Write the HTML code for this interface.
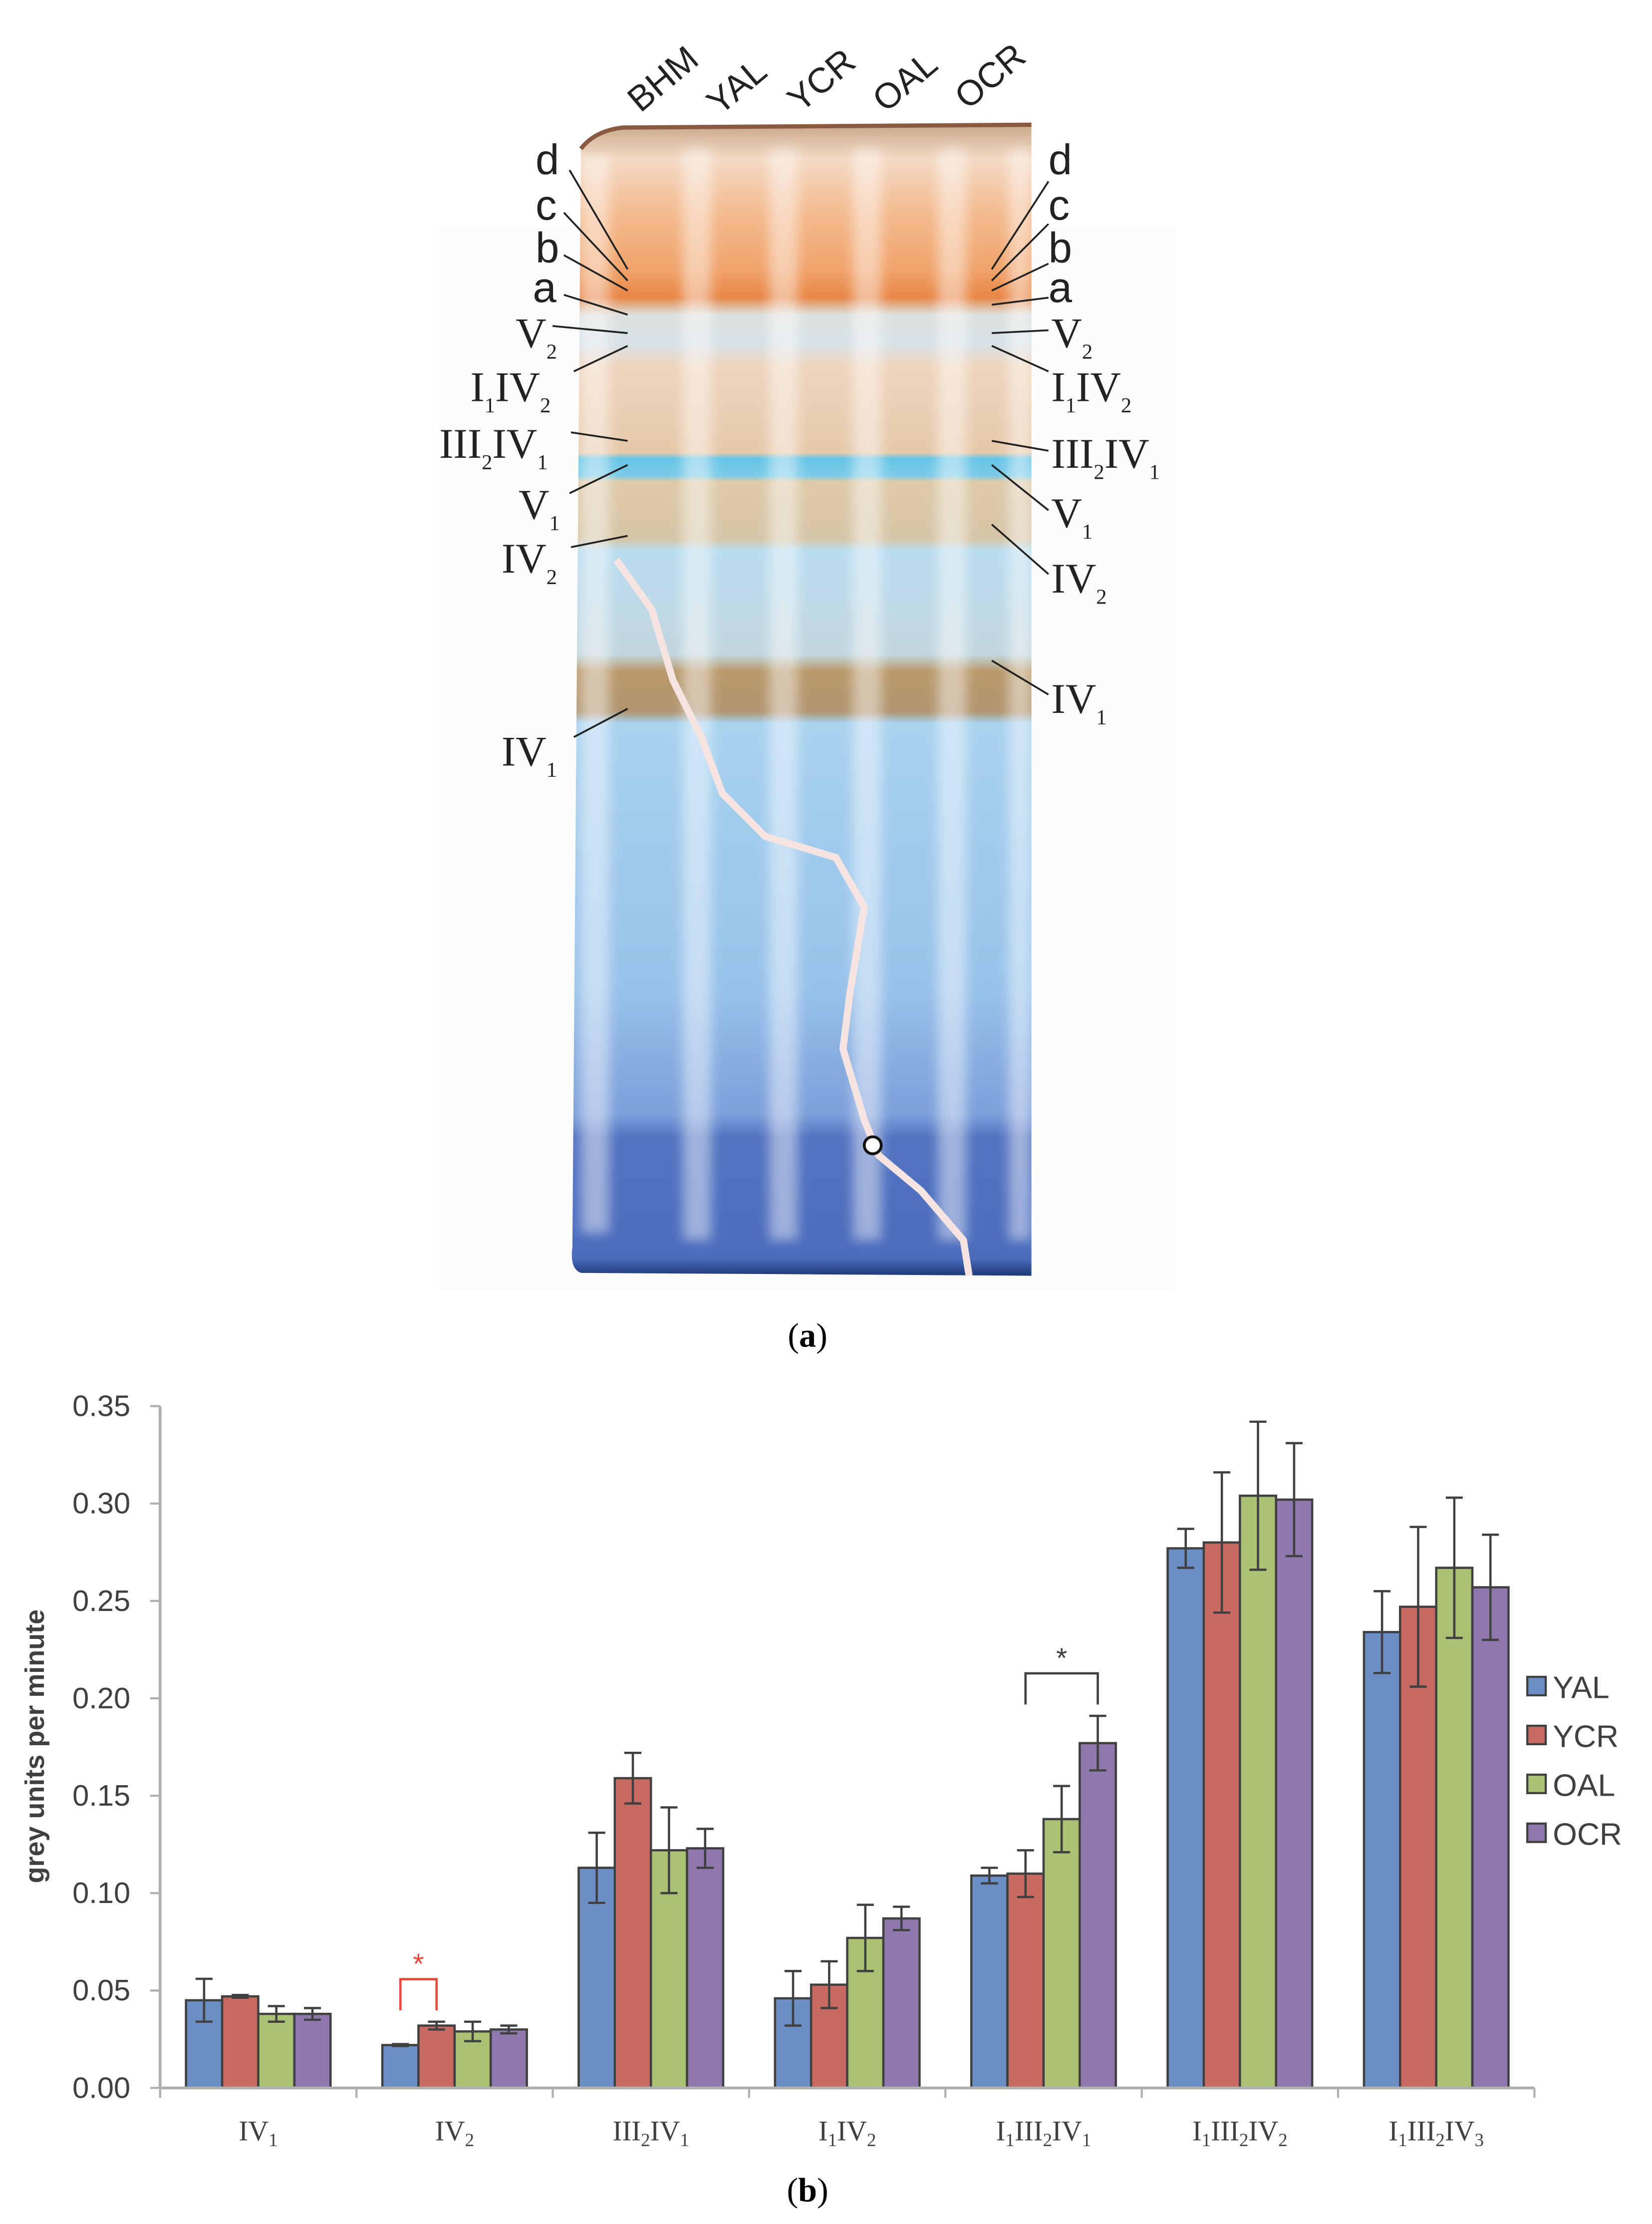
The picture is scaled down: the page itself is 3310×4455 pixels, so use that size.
<!DOCTYPE html>
<html><head><meta charset="utf-8"><style>
html,body{margin:0;padding:0;background:#fff;}
svg{display:block;}
.serif{font-family:"Liberation Serif",serif;}
.sans{font-family:"Liberation Sans",sans-serif;}
</style></head><body>
<svg id="fig" width="3310" height="4455" viewBox="0 0 1166 1569" preserveAspectRatio="none" xmlns="http://www.w3.org/2000/svg">
<defs>
<linearGradient id="gelg" x1="0" y1="88" x2="0" y2="900" gradientUnits="userSpaceOnUse">
<stop offset="0" stop-color="#c9a98a"/>
<stop offset="0.03" stop-color="#f3d9c3"/>
<stop offset="0.08" stop-color="#f3b98c"/>
<stop offset="0.125" stop-color="#f0a46c"/>
<stop offset="0.15" stop-color="#e88646"/>
<stop offset="0.165" stop-color="#dde0dc"/>
<stop offset="0.19" stop-color="#d6e2e8"/>
<stop offset="0.21" stop-color="#eed4bc"/>
<stop offset="0.285" stop-color="#e6c9aa"/>
<stop offset="0.29" stop-color="#65c4e6"/>
<stop offset="0.305" stop-color="#7ccbe8"/>
<stop offset="0.31" stop-color="#ddcaa8"/>
<stop offset="0.36" stop-color="#d6c5a6"/>
<stop offset="0.37" stop-color="#b8dcef"/>
<stop offset="0.46" stop-color="#c2d6de"/>
<stop offset="0.475" stop-color="#b8996a"/>
<stop offset="0.51" stop-color="#b09570"/>
<stop offset="0.52" stop-color="#a8d2ee"/>
<stop offset="0.75" stop-color="#98c2ea"/>
<stop offset="0.86" stop-color="#7b9fda"/>
<stop offset="0.88" stop-color="#5274c0"/>
<stop offset="0.985" stop-color="#4b6cbc"/>
<stop offset="1" stop-color="#1d3a78"/>
</linearGradient>
<filter id="soft" x="-50%" y="-5%" width="200%" height="110%"><feGaussianBlur stdDeviation="4"/></filter>
</defs>

<g id="panel-a">
<rect x="310" y="160" width="520" height="750" fill="#fcfcfc"/>
<path d="M410,105 Q420,92 440,90 L728,88 L728,900 L410,898 Q402,895 404,880 Z" fill="url(#gelg)"/>
<path d="M410,105 Q420,92 440,90 L728,88" fill="none" stroke="#8a5a40" stroke-width="3"/>
<g fill="#ffffff" opacity="0.45" filter="url(#soft)">
<rect x="410" y="110" width="20" height="760"/>
<rect x="482" y="105" width="20" height="770"/>
<rect x="543" y="105" width="20" height="770"/>
<rect x="602" y="105" width="20" height="770"/>
<rect x="662" y="105" width="20" height="770"/>
<rect x="712" y="105" width="16" height="770"/>
</g>
<path d="M435,395 L460,430 L475,480 L495,520 L510,560 L540,590 L590,605 L610,640 L600,700 L595,740 L610,790 L620,815 L650,840 L680,875 L684,900" fill="none" stroke="#f6e4e2" stroke-width="5"/>
<circle cx="616" cy="808" r="6" fill="#fff" stroke="#111" stroke-width="2"/>

<g class="sans" font-size="25" fill="#222">
<text transform="translate(452,80) rotate(-40)">BHM</text>
<text transform="translate(508,82) rotate(-40)">YAL</text>
<text transform="translate(565,80) rotate(-40)">YCR</text>
<text transform="translate(625,80) rotate(-40)">OAL</text>
<text transform="translate(683,78) rotate(-40)">OCR</text>
</g>

<g fill="#222" font-size="30">
<text class="sans" x="378" y="123">d</text>
<text class="sans" x="378" y="155">c</text>
<text class="sans" x="378" y="185">b</text>
<text class="sans" x="376" y="213">a</text>
<text class="serif" x="364" y="245">V<tspan font-size="15" dy="8">2</tspan></text>
<text class="serif" x="332" y="283">I<tspan font-size="15" dy="8">1</tspan><tspan dy="-8">IV</tspan><tspan font-size="15" dy="8">2</tspan></text>
<text class="serif" x="310" y="323">III<tspan font-size="15" dy="8">2</tspan><tspan dy="-8">IV</tspan><tspan font-size="15" dy="8">1</tspan></text>
<text class="serif" x="366" y="366">V<tspan font-size="15" dy="8">1</tspan></text>
<text class="serif" x="354" y="404">IV<tspan font-size="15" dy="8">2</tspan></text>
<text class="serif" x="354" y="540">IV<tspan font-size="15" dy="8">1</tspan></text>
</g>
<g stroke="#222" stroke-width="1.3">
<line x1="402" y1="120" x2="443" y2="190"/>
<line x1="398" y1="150" x2="443" y2="198"/>
<line x1="398" y1="180" x2="443" y2="205"/>
<line x1="398" y1="208" x2="443" y2="222"/>
<line x1="390" y1="230" x2="443" y2="235"/>
<line x1="405" y1="262" x2="443" y2="244"/>
<line x1="403" y1="305" x2="443" y2="311"/>
<line x1="402" y1="348" x2="443" y2="328"/>
<line x1="403" y1="386" x2="443" y2="378"/>
<line x1="405" y1="520" x2="443" y2="500"/>
</g>
<g fill="#222" font-size="30">
<text class="sans" x="740" y="123">d</text>
<text class="sans" x="740" y="155">c</text>
<text class="sans" x="740" y="185">b</text>
<text class="sans" x="740" y="213">a</text>
<text class="serif" x="742" y="245">V<tspan font-size="15" dy="8">2</tspan></text>
<text class="serif" x="742" y="283">I<tspan font-size="15" dy="8">1</tspan><tspan dy="-8">IV</tspan><tspan font-size="15" dy="8">2</tspan></text>
<text class="serif" x="742" y="330">III<tspan font-size="15" dy="8">2</tspan><tspan dy="-8">IV</tspan><tspan font-size="15" dy="8">1</tspan></text>
<text class="serif" x="742" y="372">V<tspan font-size="15" dy="8">1</tspan></text>
<text class="serif" x="742" y="418">IV<tspan font-size="15" dy="8">2</tspan></text>
<text class="serif" x="742" y="503">IV<tspan font-size="15" dy="8">1</tspan></text>
</g>
<g stroke="#222" stroke-width="1.3">
<line x1="740" y1="128" x2="700" y2="190"/>
<line x1="740" y1="158" x2="700" y2="198"/>
<line x1="740" y1="186" x2="700" y2="205"/>
<line x1="740" y1="210" x2="700" y2="215"/>
<line x1="740" y1="233" x2="700" y2="235"/>
<line x1="740" y1="262" x2="700" y2="244"/>
<line x1="740" y1="318" x2="700" y2="311"/>
<line x1="740" y1="360" x2="700" y2="328"/>
<line x1="740" y1="405" x2="700" y2="370"/>
<line x1="740" y1="490" x2="700" y2="466"/>
</g>
<text class="serif" x="570" y="950" font-size="24" text-anchor="middle" fill="#000">(<tspan font-weight="bold">a</tspan>)</text>
</g>

<g id="chart"></g>
<text class="serif" x="570" y="1553" font-size="24" text-anchor="middle" fill="#000">(<tspan font-weight="bold">b</tspan>)</text>
</svg>
<script>
const categories = [["IV","1"],["IV","2"],["III","2","IV","1"],["I","1","IV","2"],["I","1","III","2","IV","1"],["I","1","III","2","IV","2"],["I","1","III","2","IV","3"]];
const seriesNames = ["YAL","YCR","OAL","OCR"];
const yalValues = [0.045,0.022,0.113,0.046,0.109,0.277,0.234];
const ycrValues = [0.047,0.032,0.159,0.053,0.110,0.280,0.247];
const oalValues = [0.038,0.029,0.122,0.077,0.138,0.304,0.267];
const ocrValues = [0.038,0.030,0.123,0.087,0.177,0.302,0.257];
const yalErr = [0.011,0.0005,0.018,0.014,0.004,0.010,0.021];
const ycrErr = [0.0007,0.002,0.013,0.012,0.012,0.036,0.041];
const oalErr = [0.004,0.005,0.022,0.017,0.017,0.038,0.036];
const ocrErr = [0.003,0.002,0.010,0.006,0.014,0.029,0.027];
const yTicks = [0,0.05,0.10,0.15,0.20,0.25,0.30,0.35];
const yTickLabels = ["0.00","0.05","0.10","0.15","0.20","0.25","0.30","0.35"];
const significance = [{cat:1,from:0,to:1,color:"#e8463a"},{cat:4,from:1,to:3,color:"#404040"}];

const NS="http://www.w3.org/2000/svg";
const chart=document.getElementById('chart');
const X0=113,X1=1083,Y0=1473,YT=992,YMAX=0.35;
const colors=["#6b8fc5","#c96a62","#aac273","#8e78ae"];
const values=[yalValues,ycrValues,oalValues,ocrValues];
const errs=[yalErr,ycrErr,oalErr,ocrErr];
const groupW=(X1-X0)/categories.length;
const barW=25.5;
function yScale(v){return Y0-(v/YMAX)*(Y0-YT);}
function barX(c,s){return X0+groupW*(c+0.5)-2*barW+s*barW;}
function mk(tag,attrs,parent){const e=document.createElementNS(NS,tag);for(const k in attrs)e.setAttribute(k,attrs[k]);(parent||chart).appendChild(e);return e;}

let ax=mk('line',{x1:X0,y1:YT,x2:X0,y2:Y0,stroke:'#b0b0b0','stroke-width':2});


yTicks.forEach((t,i)=>{
  const y=yScale(t);
  const tk=mk('line',{x1:X0-7,y1:y,x2:X0,y2:y,stroke:'#b0b0b0','stroke-width':1.5});
  
  
  const lb=mk('text',{x:X0-21,y:y+7,'font-size':21,'text-anchor':'end',fill:'#404040','font-family':'Liberation Sans, sans-serif'});
  lb.textContent=yTickLabels[i];
  
  
});
const yt=mk('text',{transform:'translate(31,1232) rotate(-90)','font-size':19,'font-weight':'bold','text-anchor':'middle',fill:'#404040','font-family':'Liberation Sans, sans-serif'});
yt.textContent='grey units per minute';



categories.forEach((cat,c)=>{
  values.forEach((vals,s)=>{
    const x=barX(c,s),y=yScale(vals[c]);
    const r=mk('rect',{x:x,y:y,width:barW,height:Y0-y,fill:colors[s],stroke:'#404040','stroke-width':1.6});
    
    
    const cx=x+barW/2,e=errs[s][c];
    const g=mk('path',{d:`M${cx},${yScale(vals[c]+e)}V${yScale(vals[c]-e)}M${cx-6},${yScale(vals[c]+e)}H${cx+6}M${cx-6},${yScale(vals[c]-e)}H${cx+6}`,stroke:'#404040','stroke-width':1.6,fill:'none'});
    
    
  });
});
const xa=mk('line',{x1:X0,y1:Y0,x2:X1,y2:Y0,stroke:'#b0b0b0','stroke-width':2});


for(let i=0;i<=categories.length;i++){
  const x=X0+groupW*i;
  const tk=mk('line',{x1:x,y1:Y0,x2:x,y2:Y0+7,stroke:'#b0b0b0','stroke-width':1.5});
  
  
}
categories.forEach((cat,c)=>{
  const t=mk('text',{x:X0+groupW*(c+0.5),y:1510,'font-size':20,'text-anchor':'middle',fill:'#404040','font-family':'Liberation Serif, serif'});
  
  
  cat.forEach((part,k)=>{
    const sp=document.createElementNS(NS,'tspan');
    if(k%2===1){sp.setAttribute('font-size','13');sp.setAttribute('dy','4');}
    else if(k>0){sp.setAttribute('dy','-4');}
    sp.textContent=part;t.appendChild(sp);
  });
});
significance.forEach(sg=>{
  const xa1=barX(sg.cat,sg.from)+barW/2,xb=barX(sg.cat,sg.to)+barW/2;
  const top=Math.max(values[sg.from][sg.cat]+errs[sg.from][sg.cat],values[sg.to][sg.cat]+errs[sg.to][sg.cat]);
  const yb=yScale(top)-8,ytop=yb-22;
  const p=mk('path',{d:`M${xa1},${yb}V${ytop}H${xb}V${yb}`,stroke:sg.color,'stroke-width':1.6,fill:'none'});
  
  
  const st=mk('text',{x:(xa1+xb)/2,y:ytop-4,'font-size':20,'text-anchor':'middle',fill:sg.color,'font-family':'Liberation Sans, sans-serif'});
  st.textContent='*';
  
  
});
seriesNames.forEach((n,s)=>{
  const y=1190+s*34.5;
  const r=mk('rect',{x:1078,y:y-7,width:13,height:13,fill:colors[s],stroke:'#404040','stroke-width':1.5});
  
  
  const t=mk('text',{x:1096,y:y+8,'font-size':22,fill:'#404040','font-family':'Liberation Sans, sans-serif'});
  t.textContent=n;
  
  
});
</script>
</body></html>
